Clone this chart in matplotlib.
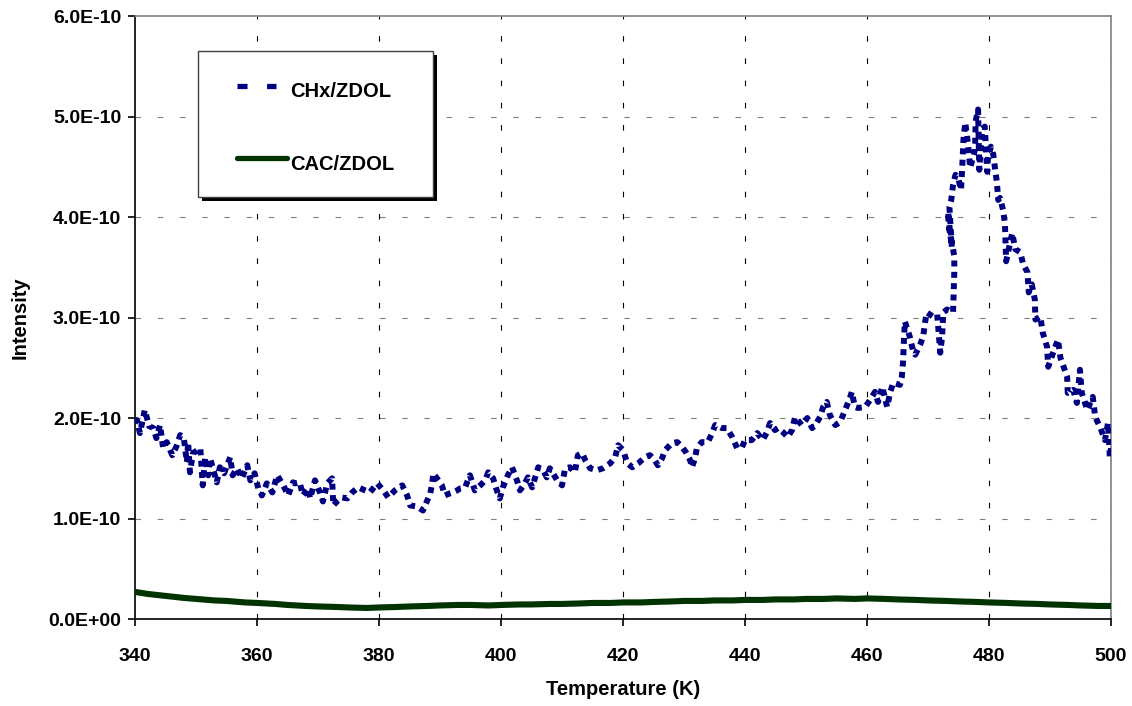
import matplotlib
matplotlib.use("Agg")
import matplotlib.pyplot as plt
from matplotlib.lines import Line2D
from matplotlib.patches import Rectangle
import numpy as np

plt.rcParams['font.family'] = ['Liberation Sans', 'DejaVu Sans']
plt.rcParams['font.weight'] = 'bold'

# CHx/ZDOL desorption signal (intensity in units of 1e-10)
chx_temp = [
    340.0, 340.3, 340.8, 341.6, 342.3, 343.0, 343.5, 344.1, 344.6, 345.2,
    346.1, 346.8, 347.4, 348.0, 348.5, 348.7, 349.0, 349.5, 350.7, 351.1,
    351.5, 352.0, 352.3, 353.4, 353.9, 354.6, 355.6, 356.0, 356.7, 357.5,
    358.4, 358.9, 359.6, 360.2, 360.8, 361.6, 362.5, 363.3, 364.3, 365.1,
    365.9, 366.2, 367.0, 367.5, 368.4, 368.7, 369.5, 370.3, 370.8, 371.5,
    372.3, 372.5, 373.1, 373.9, 374.8, 375.6, 376.6, 377.7, 378.5, 379.7,
    380.7, 381.5, 382.6, 383.8, 384.6, 385.1, 386.2, 387.2, 388.4, 388.7,
    388.9, 390.3, 390.8, 391.6, 392.1, 392.8, 393.3, 394.1, 394.9, 395.7,
    396.6, 397.4, 397.9, 398.7, 399.3, 399.8, 400.3, 401.1, 401.8, 402.6,
    403.1, 403.9, 404.4, 405.1, 406.1, 406.9, 407.5, 408.0, 409.2, 410.0,
    410.5, 411.3, 412.1, 412.6, 413.3, 413.8, 414.6, 415.7, 416.7, 417.9,
    418.7, 419.2, 420.0, 420.7, 421.5, 422.5, 423.6, 424.4, 425.2, 425.7,
    426.4, 426.9, 428.0, 428.9, 429.7, 430.3, 431.0, 431.3, 431.8, 432.1,
    432.9, 433.9, 434.6, 435.1, 436.2, 437.0, 437.9, 438.7, 439.5, 440.0,
    441.1, 442.0, 442.9, 443.6, 444.1, 444.9, 445.4, 446.2, 447.0, 447.7,
    448.2, 449.3, 450.2, 451.0, 451.5, 452.3, 452.8, 453.4, 453.9, 454.8,
    455.6, 456.4, 457.2, 457.5, 458.0, 458.5, 459.7, 460.5, 461.3, 461.8,
    462.5, 463.3, 463.8, 464.3, 465.4, 465.7, 465.9, 466.0, 466.1, 466.2,
    467.0, 467.5, 467.9, 468.7, 469.2, 469.5, 469.8, 470.8, 471.5, 472.0,
    472.3, 472.5, 473.1, 474.1, 474.2, 474.3, 474.3, 473.9, 473.4, 473.3,
    473.6, 473.9, 473.5, 473.8, 474.1, 474.5, 474.9, 475.4, 475.6, 475.8,
    476.1, 476.6, 476.9, 477.4, 477.7, 477.8, 478.2, 478.4, 478.7, 478.9,
    479.3, 479.7, 479.8, 480.3, 480.7, 481.0, 481.3, 481.5, 481.8, 482.3,
    482.6, 482.7, 482.8, 483.3, 483.8, 484.3, 485.1, 485.6, 486.3, 486.5,
    487.0, 487.5, 487.6, 488.4, 488.8, 489.5, 489.7, 490.5, 491.3, 491.7,
    492.0, 492.8, 492.9, 493.8, 494.4, 494.9, 495.2, 496.1, 497.0, 497.4,
    498.2, 499.0, 499.5, 499.8, 500.0,
]
chx_int = [
    1.95, 1.98, 1.85, 2.08, 1.92, 1.90, 1.80, 1.93, 1.70, 1.76,
    1.63, 1.72, 1.83, 1.80, 1.56, 1.76, 1.46, 1.65, 1.70, 1.33,
    1.61, 1.43, 1.60, 1.36, 1.51, 1.45, 1.61, 1.43, 1.50, 1.40,
    1.53, 1.38, 1.45, 1.30, 1.23, 1.35, 1.26, 1.43, 1.33, 1.23,
    1.36, 1.35, 1.36, 1.23, 1.30, 1.20, 1.38, 1.26, 1.17, 1.35,
    1.40, 1.13, 1.17, 1.21, 1.20, 1.26, 1.31, 1.28, 1.26, 1.35,
    1.28, 1.21, 1.28, 1.33, 1.23, 1.13, 1.12, 1.08, 1.25, 1.35,
    1.45, 1.33, 1.23, 1.25, 1.26, 1.28, 1.30, 1.31, 1.43, 1.28,
    1.33, 1.38, 1.46, 1.40, 1.28, 1.20, 1.31, 1.43, 1.51, 1.38,
    1.28, 1.35, 1.41, 1.31, 1.51, 1.48, 1.41, 1.50, 1.38, 1.33,
    1.50, 1.51, 1.46, 1.63, 1.65, 1.58, 1.50, 1.48, 1.50, 1.55,
    1.61, 1.73, 1.68, 1.55, 1.51, 1.55, 1.61, 1.63, 1.58, 1.53,
    1.60, 1.68, 1.75, 1.76, 1.71, 1.66, 1.58, 1.51, 1.60, 1.70,
    1.76, 1.76, 1.85, 1.93, 1.90, 1.90, 1.81, 1.70, 1.71, 1.78,
    1.78, 1.85, 1.78, 1.86, 1.95, 1.88, 1.90, 1.86, 1.81, 1.88,
    2.01, 1.93, 2.00, 1.90, 1.93, 2.01, 2.11, 2.16, 2.03, 1.93,
    1.96, 2.08, 2.20, 2.26, 2.11, 2.10, 2.11, 2.18, 2.26, 2.16,
    2.31, 2.11, 2.26, 2.35, 2.33, 2.41, 2.56, 2.71, 2.85, 2.96,
    2.81, 2.68, 2.63, 2.73, 2.81, 2.95, 3.05, 3.01, 3.03, 2.65,
    2.81, 3.05, 3.08, 3.05, 3.25, 3.45, 3.61, 3.75, 3.90, 4.05,
    3.85, 3.70, 4.10, 4.17, 4.32, 4.42, 4.40, 4.27, 4.49, 4.77,
    4.94, 4.70, 4.49, 4.60, 4.67, 4.95, 5.07, 4.47, 4.75, 4.87,
    4.90, 4.45, 4.57, 4.70, 4.62, 4.47, 4.34, 4.17, 4.19, 4.07,
    3.94, 3.74, 3.56, 3.70, 3.84, 3.68, 3.65, 3.53, 3.45, 3.25,
    3.33, 3.18, 2.98, 3.01, 2.85, 2.71, 2.51, 2.65, 2.78, 2.60,
    2.55, 2.41, 2.25, 2.28, 2.15, 2.48, 2.25, 2.08, 2.21, 2.01,
    1.91, 1.78, 1.95, 1.61, 1.70,
]

# CAC/ZDOL desorption signal (intensity in units of 1e-10)
cac_temp = [340, 342, 345, 348, 350, 353, 355, 358, 360, 363, 365, 368, 370,
            373, 375, 378, 380, 383, 385, 388, 390, 393, 395, 398, 400, 403,
            405, 408, 410, 413, 415, 418, 420, 423, 425, 428, 430, 433, 435,
            438, 440, 443, 445, 448, 450, 453, 455, 458, 460, 463, 465, 468,
            470, 473, 475, 478, 480, 483, 485, 488, 490, 493, 495, 498, 500]
cac_int = [0.27, 0.25, 0.23, 0.21, 0.20, 0.185, 0.18, 0.165, 0.16, 0.15,
           0.14, 0.13, 0.125, 0.12, 0.115, 0.11, 0.115, 0.12, 0.125, 0.13,
           0.135, 0.14, 0.14, 0.135, 0.14, 0.145, 0.145, 0.15, 0.15, 0.155,
           0.16, 0.16, 0.165, 0.165, 0.17, 0.175, 0.18, 0.18, 0.185, 0.185,
           0.19, 0.19, 0.195, 0.195, 0.20, 0.20, 0.205, 0.20, 0.205, 0.20,
           0.195, 0.19, 0.185, 0.18, 0.175, 0.17, 0.165, 0.16, 0.155, 0.15,
           0.145, 0.14, 0.135, 0.13, 0.13]

x_ticks = [340, 360, 380, 400, 420, 440, 460, 480, 500]
y_ticks = [0, 1e-10, 2e-10, 3e-10, 4e-10, 5e-10, 6e-10]
y_tick_labels = ['0.0E+00', '1.0E-10', '2.0E-10', '3.0E-10', '4.0E-10',
                 '5.0E-10', '6.0E-10']
series_names = ['CHx/ZDOL', 'CAC/ZDOL']

blue = '#000080'
green = '#003300'

fig = plt.figure(figsize=(11.32, 7.06), dpi=100)
ax = fig.add_axes([0.1193, 0.1232, 0.8622, 0.8541])

ax.plot(np.array(cac_temp), np.array(cac_int) * 1e-10, color=green,
        lw=4.4, solid_capstyle='round', zorder=3)
ax.plot(np.array(chx_temp), np.array(chx_int) * 1e-10, color=blue,
        lw=4.3, dashes=(1.0, 0.9), dash_capstyle='butt', zorder=4)

ax.set_xlim(340, 500)
ax.set_ylim(0, 6e-10)
ax.set_xticks(x_ticks)
ax.set_yticks(y_ticks)
ax.set_yticklabels(y_tick_labels)

# dashed grid: grey horizontals, black verticals
for y in y_ticks[1:-1]:
    ax.axhline(y, color='#808080', lw=0.8, dashes=(5, 15), zorder=1)
for x in x_ticks[1:]:
    ax.axvline(x, color='black', lw=0.8, dashes=(5, 15), zorder=1)

for side in ['top', 'right']:
    ax.spines[side].set_color('#808080')
    ax.spines[side].set_linewidth(1.2)
for side in ['left', 'bottom']:
    ax.spines[side].set_color('black')
    ax.spines[side].set_linewidth(1.2)

ax.tick_params(axis='both', direction='out', length=5, width=1.2,
               labelsize=14)
ax.tick_params(axis='y', pad=5)
ax.tick_params(axis='x', pad=16)

ax.set_xlabel('Temperature (K)', fontsize=14.5, fontweight='bold', labelpad=11)
ax.set_ylabel('Intensity', fontsize=14.5, fontweight='bold', va='center')
ax.yaxis.set_label_coords(-0.118, 0.5)

# boxed legend with a solid drop shadow (axes-fraction layout)
bx, by, bw, bh = 0.0645, 0.7002, 0.2408, 0.2421
ax.add_patch(Rectangle((bx + 0.004, by - 0.0066), bw, bh, transform=ax.transAxes,
                       facecolor='black', edgecolor='none', zorder=9,
                       clip_on=False))
ax.add_patch(Rectangle((bx, by), bw, bh, transform=ax.transAxes,
                       facecolor='white', edgecolor='#404040', lw=1.0,
                       zorder=10, clip_on=False))
hx0 = bx + 0.040
rows = [(by + bh - 0.058, blue, (1.9, 3.7), 0.040),
        (by + 0.064, green, None, 0.051)]
for (yy, col, dash, hlen), name in zip(rows, series_names):
    kw = dict(dashes=dash, dash_capstyle='butt') if dash else dict(solid_capstyle='round')
    ax.add_line(Line2D([hx0, hx0 + hlen], [yy, yy], transform=ax.transAxes,
                       color=col, lw=3.8, zorder=11, clip_on=False, **kw))
    ax.text(bx + 0.0943, yy - 0.010, name, transform=ax.transAxes,
            fontsize=14.5, fontweight='bold', ha='left', va='center', zorder=11)

fig.savefig('out.png', dpi=100)
